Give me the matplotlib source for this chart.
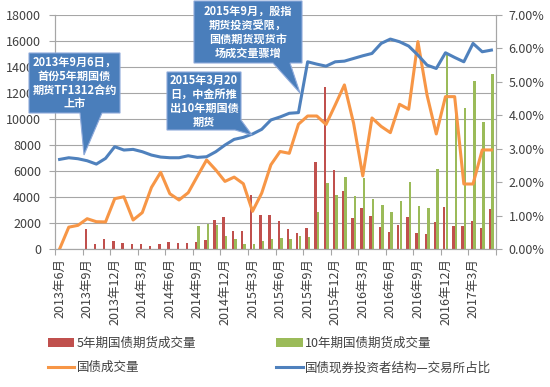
import numpy as np
import matplotlib
matplotlib.use('Agg')
import matplotlib.pyplot as plt
from matplotlib.patches import Polygon
from matplotlib.ticker import FuncFormatter

plt.rcParams['font.family'] = ['Noto Sans CJK SC', 'DejaVu Sans']

# x-axis labels, one every 3 months (2013-06 .. 2017-05 = 48 months)
tick_labels = ['2013年6月', '2013年9月', '2013年12月', '2014年3月', '2014年6月',
               '2014年9月', '2014年12月', '2015年3月', '2015年6月', '2015年9月',
               '2015年12月', '2016年3月', '2016年6月', '2016年9月', '2016年12月',
               '2017年3月']
n_months = 48

# 5-year futures volume (starts 2013-09)
vol_5y = [np.nan, np.nan, np.nan,
          1510, 360, 740, 590, 440, 360, 360, 260, 360, 510, 440, 440, 510, 690,
          2230, 2490, 1380, 1380, 4150, 2620, 2620, 2160, 1510, 1210, 1590, 6670,
          12490, 6080, 4490, 2360, 3130, 2540, 1660, 1330, 1850, 2440, 1210, 1150,
          2080, 3230, 1770, 1770, 2150, 1590, 3080]
# 10-year futures volume
vol_10y = [np.nan] * 15 + [
          1770, 1920, 1850, 1000, 780, 380, 410, 600, 750, 850, 780, 1000, 900,
          2870, 5050, 4150, 5510, 4100, 5460, 3820, 3380, 2870, 3690, 5180, 3310,
          3130, 6130, 14920, 10440, 10870, 12900, 9770, 13460]
# bond trading volume
bond_vol = [0, 1680, 1820, 2330, 2100, 2080, 3870, 4020, 2230, 2800, 4740, 5900,
            4250, 3770, 4330, 5600, 6850, 6080, 5200, 5530, 5020, 2900, 4300, 6480,
            7500, 7360, 9600, 10230, 10230, 9580, 11080, 12620, 9670, 5620, 10080,
            9430, 8950, 11130, 10750, 15950, 11820, 8850, 11720, 11720, 5000, 5000,
            7620, 7620]
# exchange share of investor structure (%)
exch_share = [2.68, 2.73, 2.70, 2.64, 2.54, 2.71, 3.06, 2.96, 2.98, 2.91, 2.81,
              2.75, 2.73, 2.73, 2.79, 2.74, 2.76, 2.91, 3.11, 3.28, 3.34, 3.44,
              3.58, 3.86, 3.95, 4.06, 4.08, 5.60, 5.53, 5.47, 5.60, 5.62, 5.70,
              5.78, 5.85, 6.15, 6.28, 6.20, 6.07, 5.80, 5.50, 5.40, 5.87, 5.73,
              5.60, 6.15, 5.90, 5.95]

RED, GREEN, ORANGE, BLUE = '#C0504D', '#9BBB59', '#F79646', '#4F81BD'
GRID = '#a6a6a6'
TXT = '#404040'

W, H = 550, 387
fig = plt.figure(figsize=(5.5, 3.87), dpi=100)
ax = fig.add_axes([55 / W, 1 - 249 / H, (496 - 55) / W, (249 - 15) / H])

x = np.arange(n_months)
b1 = ax.bar(x - 0.14, vol_5y, width=0.27, color=RED, zorder=2,
            label='5年期国债期货成交量')
b2 = ax.bar(x + 0.14, vol_10y, width=0.27, color=GREEN, zorder=2,
            label='10年期国债期货成交量')
l1, = ax.plot(x, bond_vol, color=ORANGE, lw=2.2, zorder=3, label='国债成交量')

ax.set_ylim(0, 18000)
ax.set_yticks(range(0, 18001, 2000))
ax.set_xlim(-0.5, n_months - 0.5)
ax.grid(axis='y', color=GRID, lw=0.8, zorder=0)
ax.set_axisbelow(True)

# ticks between categories, labels on categories
ax.set_xticks(np.arange(-0.5, n_months, 3))
ax.set_xticklabels([])
ax.set_xticks(np.arange(0, n_months, 3), minor=True)
ax.set_xticklabels(tick_labels, minor=True, rotation=90, fontsize=9, color=TXT)
ax.tick_params(axis='x', which='major', length=4, color=GRID)
ax.tick_params(axis='x', which='minor', length=0, pad=6.5)
ax.tick_params(axis='y', length=4, color=GRID, labelsize=9, labelcolor=TXT, pad=6)

ax2 = ax.twinx()
l2, = ax2.plot(x, exch_share, color=BLUE, lw=2.2, zorder=4,
               label='国债现券投资者结构—交易所占比')
ax2.set_ylim(0, 7)
ax2.set_yticks(range(0, 8))
ax2.yaxis.set_major_formatter(FuncFormatter(lambda v, p: f'{v:.2f}%'))
ax2.tick_params(axis='y', length=4, color=GRID, labelsize=9, labelcolor=TXT, pad=5)

for a in (ax, ax2):
    a.spines['top'].set_visible(False)
    for s in ('left', 'right', 'bottom'):
        a.spines[s].set_color(GRID)
        a.spines[s].set_linewidth(0.8)

fig.legend([b1, l1, b2, l2],
           ['5年期国债期货成交量', '国债成交量', '10年期国债期货成交量',
            '国债现券投资者结构—交易所占比'],
           ncol=2, loc='upper left', bbox_to_anchor=(48 / W, 1 - 337 / H),
           frameon=False, fontsize=9, handlelength=2.1, handleheight=0.65,
           handletextpad=0.2, columnspacing=6.4, labelspacing=0.9,
           borderpad=0, borderaxespad=0, labelcolor=TXT)


# callout boxes (figure pixel coordinates)
def px(pts):
    return [(u / W, 1 - v / H) for u, v in pts]


callouts = [
    ([(29, 53), (120, 53), (120, 113), (102, 113), (84, 155), (80, 113), (29, 113)],
     (74.5, 83), '2013年9月6日，\n首份5年期国债\n期货TF1312合约\n上市'),
    ([(167, 72), (241, 72), (241, 120), (252, 135), (235, 130), (167, 130)],
     (204, 101), '2015年3月20\n日，中金所推\n出10年期国债\n期货'),
    ([(194, 1), (302, 1), (302, 63), (290, 63), (300, 93), (273, 63), (194, 63)],
     (248, 32), '2015年9月，股指\n期货投资受限，\n国债期货现货市\n场成交量骤增'),
]
for pts, (cx, cy), txt in callouts:
    fig.add_artist(Polygon(px(pts), closed=True, transform=fig.transFigure,
                           facecolor='#4A7EBB', edgecolor='#8EAADB', lw=0.8,
                           zorder=10))
    fig.text(cx / W, 1 - cy / H, txt, color='white', fontsize=8,
             fontweight='bold', ha='center', va='center', linespacing=1.1,
             zorder=11)

fig.savefig('out.png', dpi=100)
